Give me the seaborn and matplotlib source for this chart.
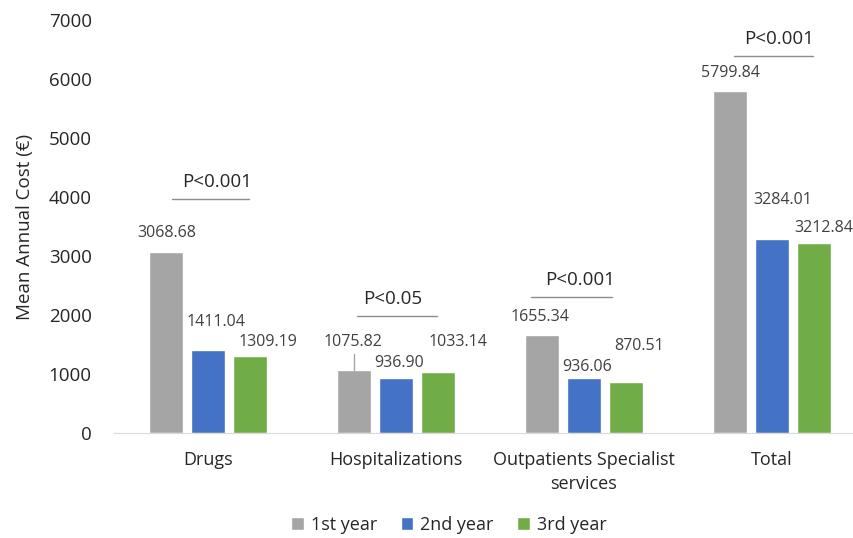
import pandas as pd
import matplotlib
matplotlib.use("Agg")
import matplotlib.pyplot as plt
import seaborn as sns

categories = ["Drugs", "Hospitalizations", "Outpatients Specialist\nservices", "Total"]
years = ["1st year", "2nd year", "3rd year"]
year1 = [3068.68, 1075.82, 1655.34, 5799.84]
year2 = [1411.04, 936.90, 936.06, 3284.01]
year3 = [1309.19, 1033.14, 870.51, 3212.84]
pvalues = ["P<0.001", "P<0.05", "P<0.001", "P<0.001"]

rows = []
for i, c in enumerate(categories):
    for y, vals in zip(years, [year1, year2, year3]):
        rows.append({"Category": c, "Year": y, "Cost": vals[i]})
df = pd.DataFrame(rows)

sns.set_style("white")
plt.rcParams["font.family"] = ["Open Sans", "DejaVu Sans"]

colors = ["#A5A5A5", "#4472C4", "#70AD47"]
fig = plt.figure(figsize=(8.54, 5.38), dpi=100)
# the plot area runs a little past the right edge, as in the reference
ax = fig.add_axes([114 / 854, 105 / 538, 752 / 854, 413 / 538])
sns.barplot(data=df, x="Category", y="Cost", hue="Year", palette=colors,
            saturation=1, width=0.67, gap=0.21, ax=ax, legend=True)

ax.set_ylim(0, 7000)
ax.set_yticks(range(0, 7001, 1000))
ax.set_xlim(-0.5, 3.5)
ax.set_xlabel("")
ax.set_ylabel("Mean Annual Cost (€)", fontsize=13.5, color="#262626")
ax.yaxis.set_label_coords(-80 / 752, 0.5)
ax.tick_params(axis="both", length=0, labelsize=13.5, colors="#262626")
ax.tick_params(axis="y", pad=16)
ax.tick_params(axis="x", pad=13, labelsize=13)
for t in ax.get_xticklabels():
    t.set_linespacing(1.45)
for s in ["left", "right", "top"]:
    ax.spines[s].set_visible(False)
ax.spines["bottom"].set_color("#D9D9D9")

# value labels: offsets (dx, dy) in pixels from bar top centre to label centre
offsets = [
    [(1, 19), (8, 28), (18, 14)],
    [(-1, 28), (3, 15), (20, 30)],
    [(-2, 18), (3, 11), (13, 36)],
    [(0, 18), (11, 39), (10, 15)],
]
bars = [p for p in ax.patches if p.get_height() > 0]
# seaborn draws hue-major: year1 bars for all categories, then year2 ...
for h in range(3):
    for c in range(4):
        p = bars[h * 4 + c]
        val = p.get_height()
        dx, dy = offsets[c][h]
        ax.annotate(f"{val:.2f}", (p.get_x() + p.get_width() / 2, val),
                    xytext=(dx, dy), textcoords="offset pixels",
                    ha="center", va="center", fontsize=11.5, color="#404040",
                    annotation_clip=False)

# leader line for hospitalizations 1st year
p = bars[1]
xc = p.get_x() + p.get_width() / 2
ax.plot([xc, xc], [p.get_height(), p.get_height() + 260], color="#A5A5A5", lw=1)

# significance lines above each group (pixel gap above tallest bar)
line_gap = [53, 54, 38, 35]
line_span = [(-0.19, 0.22), (-0.21, 0.22), (-0.28, 0.15), (-0.20, 0.22)]
text_shift = [0.05, -0.02, -0.02, 0.04]
px_per_unit = 413 / 7000
for c in range(4):
    top = max(year1[c], year2[c], year3[c]) + line_gap[c] / px_per_unit
    x0, x1 = line_span[c]
    ax.plot([c + x0, c + x1], [top, top], color="#8C8C8C", lw=1)
    ax.annotate(pvalues[c], (c + text_shift[c], top), xytext=(0, 17),
                textcoords="offset pixels", ha="center", va="center",
                fontsize=13.5, color="#262626")

leg = ax.legend(loc="center", bbox_to_anchor=((449 - 114) / 752, -92 / 413), ncol=3,
                frameon=False, fontsize=13, handlelength=0.7,
                handleheight=0.7, columnspacing=1.3, handletextpad=0.4)
leg.set_title(None)

fig.savefig("out.png", dpi=100)
